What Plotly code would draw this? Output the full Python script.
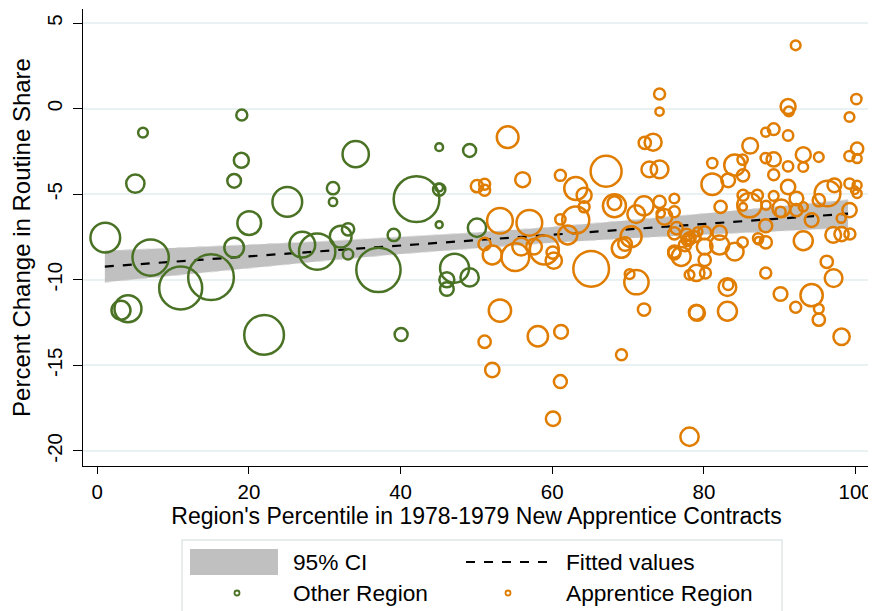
import plotly.graph_objects as go

# ---------------- data ----------------
other_x = [19.06, 6.03, 5.02, 19.0, 18.05, 25.06, 1.06, 20.04, 7.04, 18.05, 27.04, 29.0, 11.0, 15.0,
           3.13, 4.05, 22.0, 34.08, 45.09, 49.1, 31.09, 31.09, 42.1, 45.09, 45.09, 45.09, 50.07,
           32.1, 33.07, 33.07, 39.1, 37.08, 47.12, 46.1, 46.1, 49.1, 40.07]
other_y = [-0.37, -1.40, -4.38, -3.02, -4.22, -5.45, -7.54, -6.69, -8.70, -8.12, -7.95, -8.35, -10.48, -9.85,
           -11.78, -11.69, -13.22, -2.66, -2.25, -2.44, -4.65, -5.45, -5.29, -4.73, -4.61, -6.78, -6.96,
           -7.48, -7.05, -8.51, -7.38, -9.42, -9.32, -10.0, -10.54, -9.86, -13.2]
other_w = [12, 10.7, 19.3, 16, 14.7, 30.7, 30.7, 24.7, 37.3, 20.7, 26.7, 37.3, 44, 46.7,
           20, 28, 40.7, 27.3, 8.7, 14, 13.3, 9.3, 46.7, 13.3, 8.7, 8, 19.3,
           22.7, 13.3, 11.3, 13.3, 45.3, 30, 16, 14.7, 19.3, 14]

appr_x = [54.12, 56.1, 50.07, 51.08, 51.08, 53.1, 56.98, 51.08, 52.09, 55.13, 55.9, 57.6, 53.1, 51.08,
          52.09, 58.1, 65.13, 71.1, 70.2, 72.1, 61.16, 69.13, 61.07, 60.1, 78.1, 79.0, 58.96, 60.2,
          60.06, 69.1, 69.6, 70.4, 62.05, 77.0, 76.1, 78.1, 79.0, 77.9, 78.8, 74.15, 74.15, 72.2,
          73.3, 67.1, 72.8, 74.15, 61.07, 63.1, 64.2, 64.2, 68.2, 68.2, 72.1, 71.07, 74.15, 76.1,
          76.1, 74.8, 74.3, 61.07, 63.1, 76.1, 77.7, 79.2, 76.1, 77.5, 78.1, 76.4,
          92.1, 100.1, 91.1, 91.2, 99.2, 88.15, 89.2, 91.1, 86.1, 81.1, 84.06, 85.1, 85.16, 88.15,
          89.2, 89.2, 93.1, 93.1, 91.1, 95.15, 99.2, 100.2, 100.2, 81.1, 83.2, 91.1, 96.3, 97.2,
          99.2, 100.2, 100.2, 99.9, 85.16, 85.16, 86.0, 87.05, 89.2, 88.2, 90.2, 90.1, 92.2, 92.2,
          93.1, 95.15, 94.2, 99.2, 82.2, 88.15, 98.1, 93.1, 97.05, 98.15, 99.25, 87.15, 87.2, 88.15,
          85.1, 82.07, 80.1, 82.07, 84.06, 80.1, 78.1,
          80.1, 80.2, 88.15, 96.2, 97.1, 83.1, 83.2, 79.1, 83.1, 90.1, 94.2, 92.1, 95.15, 95.15, 98.15]
appr_y = [-1.67, -4.15, -4.53, -4.42, -4.77, -6.55, -6.67, -7.91, -8.55, -8.68, -8.06, -8.06, -11.8, -13.62,
          -15.27, -13.3, -9.36, -10.14, -9.67, -11.74, -13.04, -14.38, -15.95, -18.12, -19.17, -11.9, -8.26, -8.88,
          -8.41, -8.16, -7.91, -7.48, -7.38, -8.64, -8.35, -9.71, -9.6, -7.67, -7.48, 0.85, -0.17, -2.0,
          -1.96, -3.66, -3.55, -3.55, -3.9, -4.67, -5.06, -5.74, -5.68, -5.52, -5.68, -6.16, -5.45, -5.25,
          -6.03, -6.32, -6.12, -6.47, -6.51, -7.29, -7.38, -7.19, -8.45, -7.97, -7.67, -6.99,
          3.7, 0.56, 0.12, -0.16, -0.49, -1.38, -1.2, -1.57, -2.17, -3.18, -3.3, -2.98, -3.9, -2.89,
          -2.97, -3.86, -2.69, -3.41, -3.37, -2.83, -2.77, -2.34, -2.92, -4.42, -4.19, -4.58, -4.96, -4.48,
          -4.38, -4.48, -4.96, -4.77, -5.06, -5.74, -5.64, -5.06, -5.1, -5.64, -5.83, -6.03, -5.25, -5.93,
          -5.74, -5.35, -6.51, -5.93, -5.74, -6.84, -6.41, -7.72, -7.38, -7.33, -7.33, -7.58, -7.72, -7.81,
          -7.81, -7.25, -7.25, -7.97, -8.35, -8.06, -7.58,
          -8.84, -9.61, -9.61, -8.95, -9.9, -10.43, -10.29, -11.94, -11.84, -10.83, -10.9, -11.61, -11.7, -12.33, -13.33]
appr_w = [22.7, 16, 13.3, 12, 12, 26.7, 26.7, 13.3, 20, 28.7, 18.7, 16.7, 23.3, 13.3,
          15.3, 21.3, 36.7, 25.3, 10.7, 13.3, 14.7, 12, 14, 15.3, 19.3, 16, 30, 17.3,
          13.3, 20, 14.7, 22, 20, 20, 13.3, 10.7, 17.3, 13.3, 12, 12, 9.3, 13.3,
          18, 32, 16.7, 18.7, 12, 24, 16, 12, 24, 14.7, 20, 18.7, 13.3, 10.7,
          12, 16.7, 9.3, 11.3, 28, 13.3, 13.3, 10, 13.3, 13.3, 10, 13.3,
          10.7, 11.3, 16, 10.7, 10.7, 10, 12.7, 11.3, 16.7, 11.3, 22, 11.3, 13.3, 11.3,
          15.3, 12, 16, 10.7, 11.3, 10.7, 11.3, 13.3, 10, 22.7, 14.7, 15.3, 26.7, 14.7,
          11.3, 10, 10, 8.7, 12, 8.7, 25.3, 12, 10.7, 10, 18.7, 11.3, 14.7, 13.3,
          10, 13.3, 14.7, 15.3, 13.3, 14, 10, 20, 16.7, 15.3, 12, 11.3, 8.7, 13.3,
          11.3, 15.3, 14, 20, 18.7, 16.7, 13.3,
          13.3, 12, 12, 13.3, 18.7, 18.7, 11.3, 16.7, 20, 14.7, 23.3, 12, 10.7, 13.3, 17.3]

fit_x = [1, 10, 20, 30, 40, 50, 60, 70, 80, 90, 99]
fit_y = [-9.23, -8.95, -8.63, -8.32, -8.00, -7.69, -7.37, -7.06, -6.74, -6.43, -6.14]
ci_lo = [-10.15, -9.75, -9.31, -8.89, -8.49, -8.14, -7.83, -7.58, -7.35, -7.15, -6.96]
ci_hi = [-8.31, -8.15, -7.95, -7.75, -7.51, -7.24, -6.91, -6.54, -6.13, -5.71, -5.32]

x_ticks = [0, 20, 40, 60, 80, 100]
y_ticks = [-20, -15, -10, -5, 0, 5]
y_ticktext = ["-20", "-15", "-10", "-5", "0", "5"]

GREEN = "#4a7224"
ORANGE = "#e07d00"
FONT = "Liberation Sans, Arial, sans-serif"

fig = go.Figure()
fig.add_trace(go.Scatter(x=fit_x + fit_x[::-1], y=ci_hi + ci_lo[::-1], fill="toself",
                         fillcolor="#c0c0c0", line=dict(color="#d9d9d9", width=1, dash="dash"),
                         mode="lines", showlegend=False, hoverinfo="skip"))
fig.add_trace(go.Scatter(x=fit_x, y=fit_y, mode="lines",
                         line=dict(color="black", width=2.2, dash="dash"), showlegend=False))
fig.add_trace(go.Scatter(x=other_x, y=other_y, mode="markers",
                         marker=dict(size=[w - 1 for w in other_w], color="rgba(0,0,0,0)", symbol="circle",
                                     opacity=1, line=dict(color=GREEN, width=2.5)), showlegend=False))
fig.add_trace(go.Scatter(x=appr_x, y=appr_y, mode="markers",
                         marker=dict(size=[w - 1 for w in appr_w], color="rgba(0,0,0,0)", symbol="circle",
                                     opacity=1, line=dict(color=ORANGE, width=2.5)), showlegend=False))

# page has an 8px body margin; figure sized/positioned to compensate
OFF = 8
W, H = 868, 603
L, R, T, B = 75, 6, 1, 145
pw, ph = W - L - R, H - T - B


def px(xp):
    return (xp - OFF - L) / pw


def py(yp):
    return (H - B - (yp - OFF)) / ph


shapes = []
shapes.append(dict(type="rect", xref="paper", yref="paper", x0=px(182), x1=px(782), y0=py(625), y1=py(540),
                   line=dict(color="#dfe6e8", width=1.5), fillcolor="white", layer="below"))
shapes.append(dict(type="rect", xref="paper", yref="paper", x0=px(190), x1=px(278), y0=py(575), y1=py(549),
                   line=dict(width=0), fillcolor="#c0c0c0"))
shapes.append(dict(type="line", xref="paper", yref="paper", x0=px(466), x1=px(556), y0=py(562), y1=py(562),
                   line=dict(color="black", width=2, dash="dash")))
for cx, col in [(237, GREEN), (508, ORANGE)]:
    shapes.append(dict(type="circle", xref="paper", yref="paper", xsizemode="pixel", ysizemode="pixel",
                       xanchor=px(cx), yanchor=py(593), x0=-2.5, x1=2.5, y0=-2.5, y1=2.5,
                       line=dict(color=col, width=1.8)))

annotations = []
for txt, xp, yp in [("95% CI", 293, 562), ("Fitted values", 566, 562),
                    ("Other Region", 293, 593), ("Apprentice Region", 566, 593)]:
    annotations.append(dict(text=txt, xref="paper", yref="paper", x=px(xp) - 0.003, y=py(yp), xanchor="left",
                            yanchor="middle", showarrow=False, font=dict(size=22.7, color="black", family=FONT)))

fig.update_layout(
    width=W, height=H, margin=dict(l=L, r=R, t=T, b=B, autoexpand=False),
    paper_bgcolor="white", plot_bgcolor="white",
    font=dict(family=FONT, size=20.5, color="black"),
    hovermode=False, showlegend=False,
    shapes=shapes, annotations=annotations,
    xaxis=dict(range=[-1.88, 101.9], tickvals=x_ticks, ticks="outside", ticklen=7, tickwidth=1.2,
               tickcolor="black", showline=True, linecolor="black", linewidth=1.2, showgrid=False,
               zeroline=False, tickfont=dict(size=20.5), automargin=False,
               title=dict(text="Region's Percentile in 1978-1979 New Apprentice Contracts",
                          font=dict(size=23), standoff=2)),
    yaxis=dict(range=[-20.88, 5.82], tickvals=y_ticks, ticktext=y_ticktext, ticks="outside", ticklen=9,
               tickwidth=1.2, tickcolor="black", showline=True, linecolor="black", linewidth=1.2,
               showgrid=True, gridcolor="#e9f1f3", gridwidth=1.5, zeroline=False, tickangle=-90,
               tickfont=dict(size=20.5), ticklabelstandoff=3, automargin=False,
               title=dict(text="Percent Change in Routine Share", font=dict(size=24), standoff=17)),
)

fig.write_html("out.html")
